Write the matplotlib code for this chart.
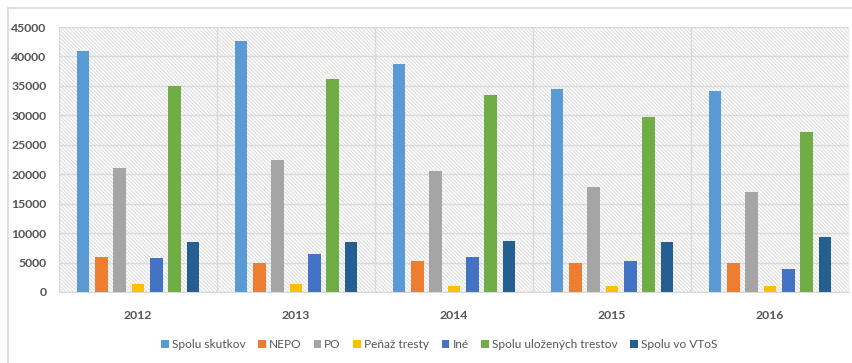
import matplotlib
matplotlib.use("Agg")
import matplotlib.pyplot as plt
import numpy as np
from matplotlib.lines import Line2D

years = ["2012", "2013", "2014", "2015", "2016"]
series_names = ["Spolu skutkov", "NEPO", "PO", "Peňaž tresty", "Iné",
                "Spolu uložených trestov", "Spolu vo VToS"]
spolu_skutkov = [41000, 42600, 38700, 34500, 34200]
nepo = [5900, 4950, 5200, 4950, 4900]
po = [21100, 22500, 20500, 17800, 16900]
penaz_tresty = [1400, 1300, 1100, 1100, 1100]
ine = [5800, 6400, 5900, 5300, 3900]
spolu_ulozenych = [35000, 36100, 33500, 29700, 27100]
spolu_vtos = [8500, 8500, 8600, 8500, 9400]
yticks = [0, 5000, 10000, 15000, 20000, 25000, 30000, 35000, 40000, 45000]

series = [spolu_skutkov, nepo, po, penaz_tresty, ine, spolu_ulozenych, spolu_vtos]
colors = ["#5B9BD5", "#ED7D31", "#A5A5A5", "#FFC000", "#4472C4", "#70AD47", "#255E91"]

plt.rcParams['hatch.color'] = '#dadada'
plt.rcParams['hatch.linewidth'] = 0.6
plt.rcParams['font.family'] = ['Lato', 'DejaVu Sans']

fig = plt.figure(figsize=(8.52, 3.63), dpi=100)
ax = fig.add_axes([59/852, 1-292/363, (849-59)/852, (292-27)/363])

ax.patch.set_facecolor('#fbfbfb')
ax.patch.set_hatch('\\' * 9)
ax.patch.set_edgecolor('#dadada')
ax.patch.set_linewidth(0)

x = np.arange(len(years))
pitch = 0.116
width = 0.081
for i, (vals, c, name) in enumerate(zip(series, colors, series_names)):
    ax.bar(x + (i - 3) * pitch, vals, width, color=c, label=name, zorder=3)

ax.set_xlim(-0.5, len(years) - 0.5)
ax.set_ylim(0, 45000)
ax.set_yticks(yticks)
ax.set_yticklabels([str(v) for v in yticks])
ax.set_xticks(x)
ax.set_xticklabels(years)
ax.set_xticks(np.arange(len(years) + 1) - 0.5, minor=True)
ax.grid(axis='y', color='#d9d9d9', linewidth=1, zorder=1)
ax.grid(axis='x', which='minor', color='#d9d9d9', linewidth=1, zorder=1)
ax.grid(axis='x', which='major', visible=False)
for s in ['top', 'right', 'left']:
    ax.spines[s].set_visible(False)
ax.spines['bottom'].set_color('#d9d9d9')
ax.tick_params(axis='both', which='both', length=0, labelsize=8.8)
ax.tick_params(axis='y', pad=9)
ax.tick_params(axis='x', pad=13)
for lbl in ax.get_xticklabels() + ax.get_yticklabels():
    lbl.set_fontweight('bold')
    lbl.set_color('#555555')

leg = fig.legend(loc='center', bbox_to_anchor=(439/852, 1-345/363), ncol=7,
                 frameon=False, fontsize=8.6, handlelength=0.65, handleheight=0.65,
                 handletextpad=0.25, columnspacing=1.05, labelcolor='#555555')

fig.add_artist(Line2D([8/852, 1], [1-8/363, 1-8/363], color='#d9d9d9', lw=1.2))
fig.add_artist(Line2D([8/852, 8/852], [0, 1-8/363], color='#d9d9d9', lw=1.2))

fig.savefig("out.png", dpi=100)
